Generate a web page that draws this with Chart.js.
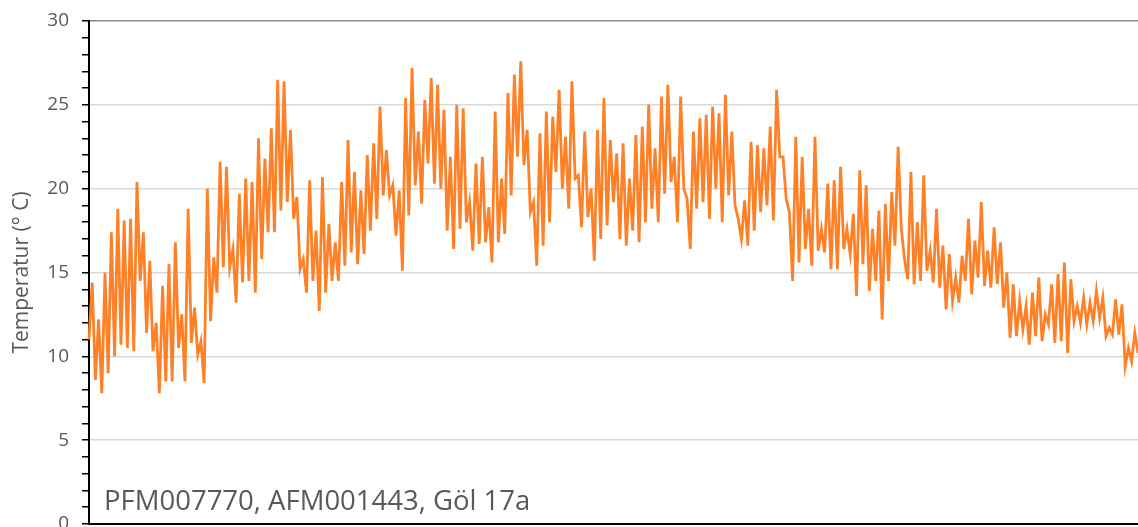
<!DOCTYPE html>
<html>
<head>
<meta charset="utf-8">
<script src="https://cdn.jsdelivr.net/npm/chart.js@4.4.1/dist/chart.umd.min.js"></script>
<style>
  html, body { margin: 0; padding: 0; background: #fff; }
  #wrap { width: 1138px; height: 527px; position: relative; }
</style>
</head>
<body>
<div id="wrap"><canvas id="grafico"></canvas></div>
<script>
// Temperaturverlauf (Tagesmaxima und -minima abwechselnd)
const temperaturen = [
  11, 14.4, 8.6, 12.2, 7.8, 15, 9, 17.4, 10, 18.8, 10.7, 18.1, 10.5, 18.2, 10.3, 20.4, 14.5, 17.4, 11.4, 15.7,
  10.3, 12, 7.8, 14.2, 8.5, 15.5, 8.5, 16.8, 10.5, 12.5, 8.5, 18.8, 10.8, 12.9, 10.1, 10.9, 8.4, 20, 12.1, 15.9,
  13.8, 21.6, 15.3, 21.3, 15.3, 16.4, 13.2, 19.7, 14.4, 20.6, 14.5, 20.4, 13.8, 23, 15.8, 21.8, 17.4, 23.6, 17.4, 26.5,
  18.7, 26.4, 19.2, 23.5, 18.2, 19.5, 15.2, 15.8, 13.8, 20.5, 14.5, 17.5, 12.7, 20.7, 13.8, 17.9, 14.5, 16.8, 14.5, 20.4,
  15.4, 22.9, 16.2,
  21, 15.5, 19.9, 16.1, 22, 17.5, 22.7, 18.2, 24.9, 19.6, 22.3, 19.6, 20.2, 17.2, 19.9, 15.1, 25.4, 18.4, 27.2, 20.2,
  23.4, 19.1, 25.3, 21.5, 26.6, 20.3, 26.2, 20, 24.7, 17.5, 21.9, 16.4, 25, 17.6, 24.8, 18, 19.2, 16.3, 21.5, 16.7,
  21.9, 16.8, 18.9, 15.6, 24.6, 16.8, 20.6, 17.3, 25.7, 19.6, 26.8, 21.9, 27.6, 21.4, 23.5, 18.6, 19.2, 15.4, 23.3, 16.6,
  24.6, 18, 24.3, 21, 25.9, 20, 23.1, 18.8, 26.4, 20.6, 20.8, 17.7, 23.4, 18.3, 20, 15.7, 23.5, 17, 25.4, 17.8,
  22.9, 19.2,
  22.1, 17, 22.7, 16.6, 20.6, 17.5, 23.2, 16.8, 23.7, 18, 25, 18.8, 22.4, 18, 25.5, 19.7, 26.2, 20.4, 21.9, 18,
  25.5, 20, 19.4, 16.4, 23.4, 18.8, 24.2, 19.2, 24.4, 18.2, 24.9, 20, 24.5, 18, 25.6, 19.6, 23.4, 19, 18.2, 17,
  19.3, 16.6, 22.8, 17.5, 22.6, 18.6, 22.4, 19, 23.7, 18.1, 25.9, 21.9, 21.9, 19.4, 18.6, 14.5, 23.1, 15.6, 21.9, 16.4,
  18.8, 15.4, 23.1, 16.3, 17.6, 16.2, 20.3, 15.2, 20.5, 15.2, 21.3, 16.4, 17.6, 16.1, 18.5, 13.6, 21.1, 15.5, 20.2, 13.9,
  17.6, 14.5, 18.7, 12.2, 19.1, 14.5, 19.8, 16.6, 22.5, 17.6, 15.8, 14.6, 21, 14.3, 18, 14.5, 20.8, 15.1, 16.3, 14.4,
  18.8, 14.1, 16.6, 12.8, 16.1, 13.3, 14.7, 13.2, 16, 14.5, 18.2, 13.7, 16.9, 14.7, 19.2, 14.2, 16.3, 14.1, 17.7, 14.3,
  16.8, 12.9, 15, 11.1, 14.3, 11.2, 13.3, 11.6, 13, 10.7, 13.8, 11.2, 14.7, 10.9, 12.5, 11.9, 14.3, 10.8, 14.9, 10.9,
  15.6, 10.2, 14.6, 12.1, 13, 12, 13.5, 11.9, 13.2, 12.1, 13.9, 12.3, 13.5, 11.2, 11.7, 11.3, 13.4, 11.3, 13.1, 9.4,
  10.5, 9.7, 11.4, 10.2
];
const etiquetas = temperaturen.map((_, i) => i);
const titelY = "Temperatur (° C)";
const beschriftung = "PFM007770, AFM001443, Göl 17a";
const grauText = "#595959";

// Beschriftung unten links im Diagramm
const textPlugin = {
  id: "beschriftung",
  afterDraw(chart) {
    const ctx = chart.ctx;
    ctx.save();
    ctx.font = '27.5px "Open Sans"';
    ctx.fillStyle = grauText;
    ctx.textBaseline = "alphabetic";
    ctx.fillText(beschriftung, chart.chartArea.left + 15, 510);
    ctx.restore();
  },
};

const ctx = document.getElementById("grafico").getContext("2d");
new Chart(ctx, {
  type: "line",
  data: {
    labels: etiquetas,
    datasets: [{
      data: temperaturen,
      borderColor: "#fe8128",
      borderWidth: 2.8,
      pointRadius: 0,
      tension: 0,
      fill: false,
    }],
  },
  options: {
    responsive: true,
    maintainAspectRatio: false,
    animation: false,
    layout: { padding: { top: 21, right: 0, left: 0, bottom: 0 } },
    plugins: { legend: { display: false }, tooltip: { enabled: false } },
    scales: {
      x: {
        type: "category",
        offset: false,
        ticks: { display: false },
        grid: { display: false, drawTicks: false },
        border: { color: "#000", width: 2 },
        afterFit: (s) => { s.height = 3; s.paddingLeft = 0; s.paddingRight = 0; },
      },
      y: {
        min: 0,
        max: 30,
        ticks: {
          stepSize: 1,
          color: grauText,
          font: { family: "Open Sans", size: 19 },
          padding: 13,
          autoSkip: false,
          callback: (v) => (v % 5 === 0 ? v : ""),
        },
        grid: {
          color: (c) => {
            const v = c.tick.value;
            if (v === 30) return "#8c8c8c";
            return v % 5 === 0 && v !== 0 ? "#d9d9d9" : "transparent";
          },
          lineWidth: 1.5,
          tickColor: "#000",
          tickLength: 7,
          tickWidth: 1.5,
        },
        border: { color: "#000", width: 2 },
        title: {
          display: true,
          text: titelY,
          color: grauText,
          font: { family: "Open Sans", size: 21 },
          padding: { top: 9, bottom: 0 },
        },
        afterFit: (s) => { s.width = 89; s.paddingTop = 0; s.paddingBottom = 0; },
      },
    },
  },
  plugins: [textPlugin],
});
</script>
</body>
</html>
